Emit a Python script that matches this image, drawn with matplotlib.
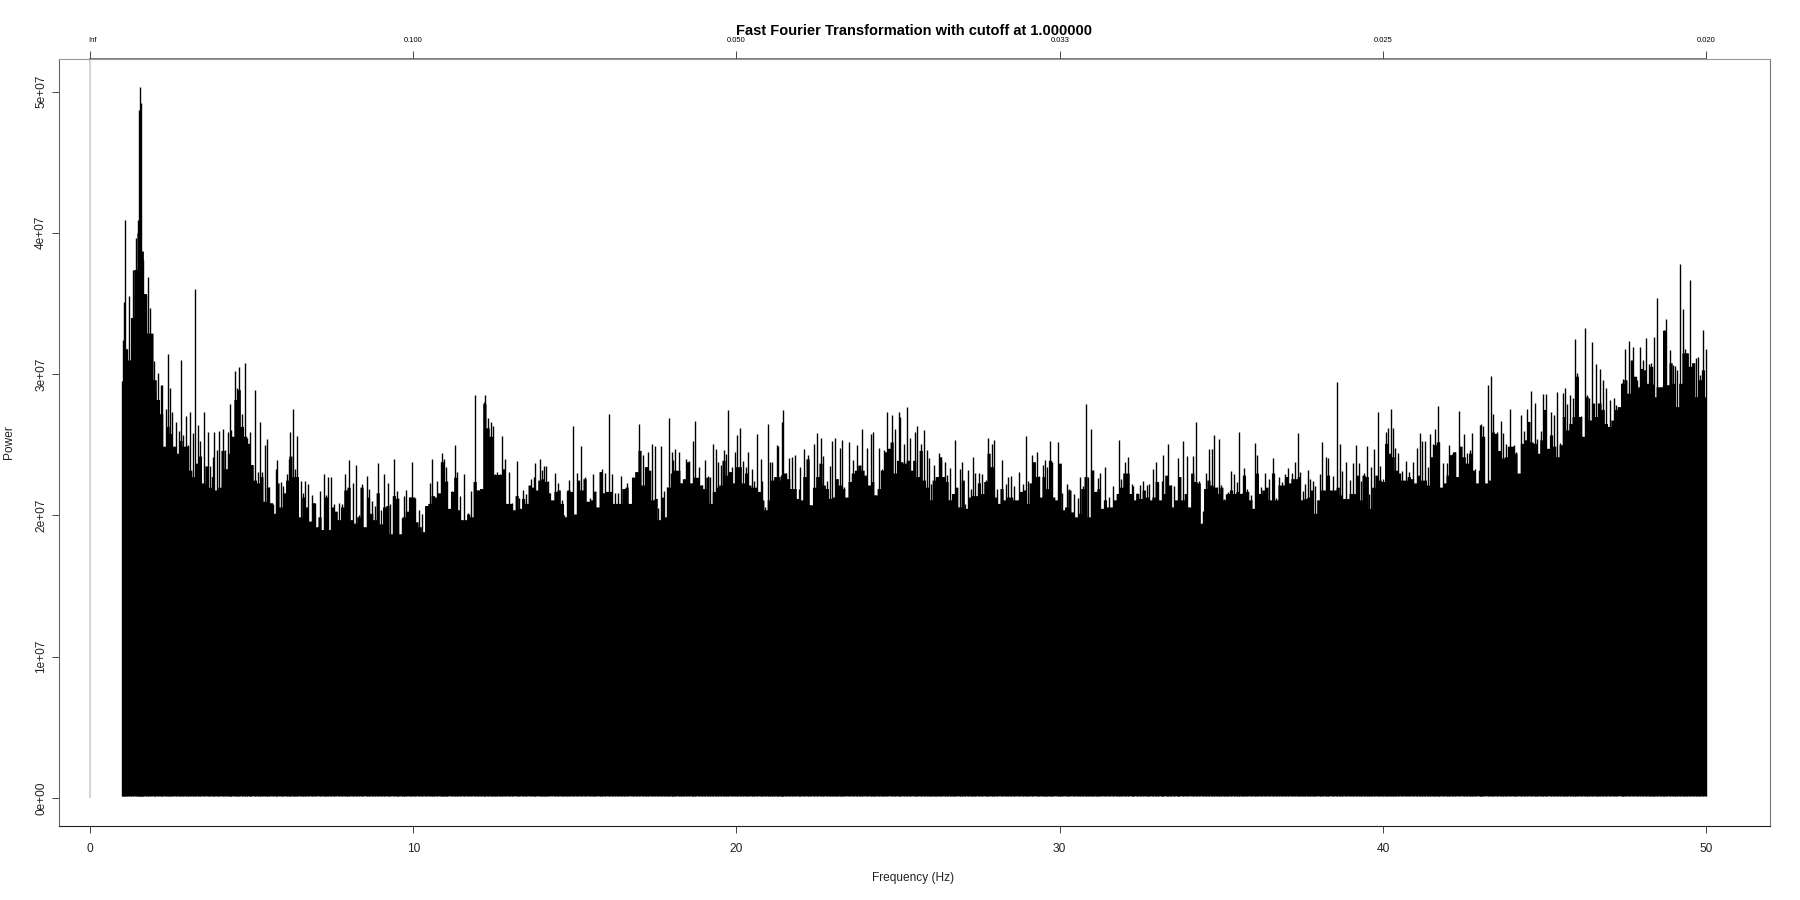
import numpy as np
import matplotlib
matplotlib.use('Agg')
import matplotlib.pyplot as plt
from matplotlib.transforms import ScaledTranslation

plt.rcParams['font.family'] = ['Liberation Sans', 'DejaVu Sans']

# Peaks: (frequency in Hz, power in millions)
peaks_1_to_9 = [(1.0,29.5),(1.03,32.4),(1.052,35.1),(1.09,40.9),(1.155,31.8),(1.217,35.5),(1.258,31.0),(1.32,37.4),
    (1.41,39.6),(1.475,40.9),(1.505,48.7),(1.547,50.3),(1.57,49.2),(1.61,38.7),(1.65,38.1),(1.72,35.6),(1.785,36.9),
    (1.867,34.7),(1.97,30.9),(2.02,28.9),(2.09,30.1),(2.19,29.2),(2.24,29.2),(2.34,27.5),(2.40,31.4),(2.475,29.0),
    (2.54,27.35),(2.66,26.6),(2.74,26.0),(2.805,31.0),(2.89,25.7),(2.96,27.0),(3.02,25.0),(3.08,27.3),(3.2,25.8),
    (3.24,36.0),(3.33,26.4),(3.40,25.3),(3.52,27.35),(3.64,25.9),(3.71,23.5),(3.80,24.1),(3.85,25.9),(3.92,24.6),
    (3.99,26.0),(4.10,26.1),(4.18,24.6),(4.26,25.9),(4.33,27.9),(4.37,26.05),(4.48,30.25),(4.54,29.0),(4.61,30.5),
    (4.70,27.2),(4.79,30.8),(4.86,25.5),(4.94,25.9),(4.99,23.6),(5.09,28.9),(5.19,23.1),(5.26,26.6),(5.33,23.1),
    (5.42,25.0),(5.48,25.4),(5.55,22.0),(5.65,20.8),(5.75,23.3),(5.80,23.9),(5.90,22.35),(5.98,22.1),(6.08,22.9),
    (6.15,24.0),(6.20,25.9),(6.28,27.5),(6.35,23.3),(6.40,25.6),(6.52,22.4),(6.60,21.6),(6.65,22.4),(6.74,22.2),
    (6.88,21.45),(6.97,20.9),(7.12,21.75),(7.23,22.9),(7.29,21.45),(7.36,22.7),(7.45,22.7),(7.55,20.8),(7.70,20.9),
    (7.81,20.8),(7.89,22.9),(7.94,21.8),(8.01,23.9),(8.14,22.3),(8.22,23.6),(8.31,20.0),(8.41,22.2),(8.56,22.8),
    (8.62,21.85),(8.72,21.05),(8.82,20.7),(8.90,23.7)]

peaks_9_to_17 = [(9.0,20.4),(9.11,22.9),(9.21,22.3),(9.28,20.8),(9.40,24.0),(9.49,21.7),(9.54,21.2),(9.64,19.8),
    (9.72,21.4),(9.79,21.8),(9.90,21.3),(9.95,23.8),(10.06,21.25),(10.18,20.4),(10.26,20.1),(10.40,20.7),(10.52,22.3),
    (10.58,24.0),(10.65,21.4),(10.74,22.4),(10.86,23.8),(10.89,24.4),(10.95,24.0),(11.0,23.4),(11.05,22.4),(11.19,21.7),
    (11.28,25.0),(11.36,23.1),(11.45,21.4),(11.57,22.9),(11.68,20.2),(11.78,21.7),(11.91,28.5),(11.99,21.8),(12.10,21.9),
    (12.20,28.0),(12.22,28.5),(12.31,26.9),(12.39,26.6),(12.47,26.35),(12.53,22.9),(12.60,23.1),(12.69,22.9),(12.76,25.6),
    (12.84,24.0),(12.97,23.1),(13.05,20.85),(13.20,23.85),(13.28,21.2),(13.40,21.8),(13.49,21.5),(13.64,22.55),(13.75,22.7),
    (13.77,23.7),(13.92,24.0),(13.97,23.2),(14.05,23.5),(14.11,23.5),(14.18,22.4),(14.39,23.0),(14.49,22.3),(14.59,21.1),
    (14.67,20.0),(14.75,21.75),(14.81,22.5),(14.94,26.3),(15.06,23.0),(15.20,24.9),(15.31,22.7),(15.47,21.2),(15.57,22.9),
    (15.63,21.7),(15.78,23.1),(15.83,23.3),(15.92,23.0),(16.06,27.15),(16.14,22.9),(16.25,21.6),(16.33,21.6),(16.42,22.8),
    (16.52,21.9),(16.62,22.3),(16.79,22.7),(16.89,23.1),(16.99,26.5),(17.10,24.3),(17.19,23.4),(17.25,24.5)]

peaks_17_to_26 = [(17.38,25.05),(17.49,24.9),(17.57,20.5),(17.67,24.9),(17.75,21.7),(17.85,22.0),(17.92,26.9),(17.99,24.5),
    (18.05,23.9),(18.11,24.7),(18.21,24.5),(18.29,22.3),(18.36,22.6),(18.43,24.0),(18.52,23.85),(18.62,22.3),(18.66,25.3),
    (18.73,26.65),(18.85,23.45),(18.93,22.15),(19.03,23.9),(19.13,22.8),(19.19,22.7),(19.27,25.05),(19.38,24.7),(19.44,23.8),
    (19.51,23.6),(19.61,24.6),(19.68,24.35),(19.75,27.45),(19.85,23.45),(19.96,24.5),(20.02,25.7),(20.10,26.2),(20.20,23.85),
    (20.30,23.45),(20.37,24.5),(20.47,23.3),(20.53,22.4),(20.65,25.75),(20.75,24.0),(20.79,22.45),(20.89,20.6),(20.97,26.45),
    (21.04,23.8),(21.1,23.75),(21.16,22.4),(21.24,25.0),(21.29,24.9),(21.37,22.85),(21.42,26.6),(21.45,27.45),(21.53,23.0),
    (21.64,24.05),(21.71,24.15),(21.81,24.25),(21.92,21.9),(21.97,23.45),(22.08,24.7),(22.21,24.3),(22.29,20.75),(22.39,25.05),
    (22.5,25.85),(22.6,25.5),(22.69,24.2),(22.79,22.45),(22.9,23.5),(22.96,25.25),(23.04,25.5),(23.12,22.6),(23.19,24.75),
    (23.26,25.35),(23.34,22.0),(23.48,25.2),(23.62,23.9),(23.74,25.0),(23.83,23.55),(23.89,26.15),(24.03,24.8),(24.15,25.75),
    (24.21,25.9),(24.29,21.45),(24.41,24.8),(24.5,23.25),(24.57,24.6),(24.67,27.35),(24.8,27.1),(24.91,26.1),(25.03,27.3),
    (25.07,26.95),(25.19,25.05),(25.29,27.7),(25.38,25.45),(25.51,25.9),(25.59,26.3)]

peaks_26_to_34 = [(25.7,25.05),(25.81,26.05),(25.89,24.6),(25.96,24.05),(26.02,22.2),(26.10,23.6),(26.16,22.75),(26.26,24.4),
    (26.33,23.9),(26.45,23.8),(26.5,22.85),(26.6,23.35),(26.69,21.45),(26.77,25.35),(26.92,23.3),(26.98,23.8),(27.06,20.8),
    (27.17,23.2),(27.26,21.9),(27.33,24.1),(27.39,23.0),(27.51,23.0),(27.6,22.9),(27.71,22.5),(27.78,25.45),(27.9,25.05),
    (27.97,25.35),(28.07,21.85),(28.23,23.9),(28.33,22.2),(28.4,22.75),(28.48,22.8),(28.59,22.05),(28.73,23.1),(28.85,22.2),
    (28.96,25.6),(29.03,22.45),(29.15,24.3),(29.29,24.5),(29.36,22.8),(29.48,23.55),(29.56,23.9),(29.61,23.45),(29.71,25.25),
    (29.76,23.8),(29.95,25.2),(30.01,23.65),(30.07,21.6),(30.22,22.2),(30.29,21.9),(30.44,21.55),(30.56,21.25),(30.63,22.7),
    (30.73,22.1),(30.81,27.9),(30.87,22.75),(30.98,26.1),(31.02,23.2),(31.12,21.65),(31.2,22.65),(31.25,23.0),(31.4,23.4),
    (31.53,21.3),(31.66,22.05),(31.77,21.5),(31.85,25.35),(31.91,22.55),(32.02,23.75),(32.11,24.1),(32.23,22.2),(32.28,22.05),
    (32.38,21.6),(32.47,22.15),(32.58,22.45),(32.69,22.15),(32.77,22.25),(32.88,23.3),(32.97,23.75),(33.04,22.35),(33.15,22.45),
    (33.2,24.3),(33.32,22.75),(33.36,25.05),(33.44,22.15),(33.54,22.05),(33.66,24.05),(33.7,22.75),(33.82,25.3),(33.93,24.2)]

peaks_34_to_42 = [(34.12,24.2),(34.21,26.6),(34.32,22.45),(34.42,20.3),(34.53,23.0),(34.63,24.7),(34.72,24.7),(34.77,25.7),
    (34.86,22.0),(34.93,25.4),(35.0,22.15),(35.07,21.15),(35.14,21.5),(35.2,21.65),(35.3,23.15),(35.4,22.9),(35.47,22.35),
    (35.55,25.9),(35.63,21.6),(35.71,23.35),(35.79,21.9),(35.92,21.45),(36.04,25.1),(36.1,24.3),(36.22,22.0),(36.35,23.0),
    (36.47,22.6),(36.61,24.05),(36.7,21.2),(36.79,22.75),(36.89,22.35),(36.96,22.9),(37.07,23.35),(37.18,23.0),(37.28,23.8),
    (37.37,25.8),(37.44,23.05),(37.54,21.75),(37.59,22.25),(37.69,23.2),(37.75,22.6),(37.84,22.45),(37.91,22.05),(38.05,22.95),
    (38.11,25.2),(38.24,24.1),(38.31,24.05),(38.45,22.8),(38.57,29.45),(38.68,25.05),(38.74,23.15),(38.85,23.75),(38.99,22.5),
    (39.07,23.7),(39.16,24.95),(39.25,23.7),(39.32,22.45),(39.4,23.0),(39.5,24.9),(39.56,21.55),(39.64,23.45),(39.72,24.7),
    (39.84,27.35),(39.91,23.5),(40.0,22.6),(40.1,25.9),(40.16,26.2),(40.25,27.5),(40.31,26.2),(40.38,24.8),(40.48,24.4),
    (40.58,23.15),(40.71,23.85),(40.8,23.1),(40.93,23.8),(41.06,24.8),(41.15,25.8),(41.2,25.25),(41.29,25.25),(41.38,23.45),
    (41.46,25.75),(41.55,25.05),(41.61,26.15),(41.69,27.75),(41.72,25.2),(41.85,23.7),(41.97,23.7),(42.03,25.0)]

peaks_42_to_50 = [(42.13,24.35),(42.22,24.5),(42.35,27.4),(42.51,25.75),(42.6,24.4),(42.7,24.65),(42.76,25.85),(42.84,23.3),
    (42.99,26.4),(43.04,26.5),(43.11,26.3),(43.26,29.25),(43.35,29.85),(43.41,27.2),(43.52,25.9),(43.66,26.7),(43.71,25.8),
    (43.81,25.05),(43.93,27.5),(44.06,24.95),(44.12,24.5),(44.26,27.1),(44.37,26.0),(44.46,27.55),(44.59,28.8),(44.69,27.95),
    (44.77,25.4),(44.89,25.95),(44.95,28.6),(45.04,28.6),(45.19,27.35),(45.28,27.1),(45.39,28.7),(45.49,25.1),(45.57,28.65),
    (45.64,29.0),(45.71,27.85),(45.78,28.5),(45.88,28.3),(45.94,32.45),(46.0,30.05),(46.12,27.05),(46.24,33.25),(46.31,28.5),
    (46.37,28.3),(46.47,32.3),(46.59,30.75),(46.65,27.95),(46.73,30.35),(46.81,29.55),(46.9,29.0),(47.02,28.15),(47.14,28.3),
    (47.22,27.8),(47.39,29.4),(47.44,29.65),(47.49,31.75),(47.62,32.35),(47.73,31.9),(47.86,29.6),(47.95,31.95),(48.04,31.0),
    (48.14,32.55),(48.22,30.7),(48.28,30.8),(48.35,29.3),(48.4,32.65),(48.47,35.4),(48.56,29.1),(48.65,29.25),(48.71,33.15),
    (48.76,33.9),(48.89,31.7),(48.96,30.65),(49.03,30.55),(49.1,30.3),(49.18,37.8),(49.28,34.6),(49.35,31.75),(49.42,31.5),
    (49.51,36.65),(49.6,30.8),(49.69,31.15),(49.75,31.2),(49.82,29.95),(49.9,33.15),(50.0,31.8)]

# Solid mass under the peaks, one value per 0.1 Hz bin
body_1_to_9 = [29.5,31.8,31,34,37.4,40,38.7,35.7,32.9,32.9,29.6,28.2,27.2,24.9,26.3,25.8,24.9,24.4,25.3,24.9,24.9,23.2,22.75,
    23.7,24.2,22.3,23.5,22,22.75,21.8,22,24.6,23.3,24.4,25.6,28.2,28.9,26.3,25.6,25.1,23.6,22.5,22.3,22.75,21,22,20.9,20.15,
    22.3,20.6,21.6,22.5,24.2,22.75,22.75,19.9,21.3,20.6,19.6,20.9,19.2,19.9,19,21.3,19,20.6,20.3,19.7,20.6,21.8,22,19.7,19.45,
    19.9,22,19.2,21.3,20.15,19.7,21.6]
body_9_to_17 = [19.4,20.6,20.7,18.7,21.4,21.2,18.7,19.9,20.3,21.3,21.3,19.55,19.2,18.85,20.7,20.85,21.4,21.3,21.6,23.8,22.4,
    20.5,21.7,22.7,20.4,19.7,19.7,20.1,19.9,22.4,21.8,21.9,27.9,26.2,25.6,22.9,22.9,22.9,23.3,20.85,20.85,20.4,21.4,20.5,21.2,
    20.85,22.15,22,21.8,22.5,22.6,22.4,21.6,21.1,21.7,21.8,20.85,19.9,21.8,21.7,20.1,22.5,21.8,22.6,21,21.1,21.7,20.6,23.1,21.6,
    21.7,21.7,20.85,20.85,20.85,21.9,22,20.85,22.7,23.1,24.6,22.15,23.45,23.2]
body_17_to_26 = [21.1,21.2,19.7,21.3,19.9,22,23,23.2,23.2,22.3,22.6,23.8,22.3,22.7,22.7,22.15,21.9,22.7,20.85,21.7,22,22.15,23.9,
    22.85,23.1,22.3,23.45,23.45,22.3,23,22.15,22,22,21.7,21.1,20.4,21.1,22.5,22.75,22.75,22.5,23,22.6,21.9,21.9,21.2,21.1,22.75,24,
    20.75,22,22.75,23.7,22.15,21.9,21.2,21.3,22.6,22.15,21.9,21.3,22.4,23,23.2,23.55,23.2,22.85,22.15,22.4,21.45,21.9,23.2,24.5,
    24.75,25.2,23,23.9,23.8,23.7,23.9,23.2,23.9,22.75]
body_26_to_34 = [24.6,22.5,22,21.1,22.5,22.75,24.15,22.75,22.4,21.1,21.55,22,20.6,22.5,20.5,21.3,21.4,21.4,22.3,21.55,22.4,24.4,
    23.45,21.3,20.85,21.9,21.1,21.3,21.3,21.1,21.1,21.7,21.8,20.85,22.3,23.8,22.75,21.3,22.75,21.9,23.9,21.3,21.1,23.7,20.4,20.6,
    21.8,20.25,19.9,20.15,21.9,22.75,19.9,23.2,21.7,21.9,20.5,21.1,20.6,20.6,21.1,21.55,22,23,23,21.55,21.1,21.55,21.2,21.8,21.3,
    21.1,21.3,22.4,21.1,21.55,22.85,22.15,20.6,21.1,22.75,21.1,21.55,20.6]
body_34_to_42 = [23,22.4,22.3,19.45,21.9,22.5,22.15,22,21.55,22,21.1,21.55,21.8,21.55,21.7,21.55,22.85,21.7,21.1,20.5,23,21.55,21.8,
    22,21.1,23,21.1,22.15,22.15,22.75,22.3,22.6,22.6,22.75,21.1,21.2,21.3,21.8,20.15,21.1,21.8,21.8,22.85,21.8,21.8,22,21.45,21.2,
    21.2,21.55,21.55,22.85,21.1,22.85,22.75,20.5,22,22.85,22.5,22.4,25.1,24.4,24.15,23.2,23,22.5,22.5,22.75,22.6,22.3,22.85,22.5,22.5,
    22.15,24.15,25,25.2,22,22.3,22.85]
body_42_to_50 = [24.3,24.5,22.75,24.9,24.15,23.7,24.4,23.2,22.3,23.2,25.6,22.3,22.5,25.9,25.8,24.6,24.05,24.15,24.9,24.9,24.4,23,25.1,
    25.35,26.65,25.2,25.1,24.4,25.35,27.5,24.75,25.7,24.9,24.15,25,27,26.05,26.5,27,29.85,27,25.6,28.4,26.75,27.95,27,27.95,27.5,26.5,
    26.3,26.75,27.5,27.7,29.35,29.6,28.65,31,29.85,29.1,30.4,30.3,29.35,30.55,28.4,29.1,29.1,33.1,29.25,30.8,29.35,27.7,29.35,31.5,31.5,
    30.55,30.8,28.4,29.6,30.3,28.4]
bottom_power = 0.15

inf_freq = 0

x_ticks = [0, 10, 20, 30, 40, 50]
top_ticks = [0, 10, 20, 30, 40, 50]
top_labels = ['Inf', '0.100', '0.050', '0.033', '0.025', '0.020']
y_ticks = [0, 1e7, 2e7, 3e7, 4e7, 5e7]
y_labels = ['0e+00', '1e+07', '2e+07', '3e+07', '4e+07', '5e+07']

peaks = np.array(peaks_1_to_9 + peaks_9_to_17 + peaks_17_to_26 + peaks_26_to_34 + peaks_34_to_42 + peaks_42_to_50)
peak_freq = peaks[:, 0]
peak_power = peaks[:, 1] * 1e6

band_starts = [1.0, 9.0, 17.4, 25.7, 34.1, 42.1]
bands = [body_1_to_9, body_9_to_17, body_17_to_26, body_26_to_34, body_34_to_42, body_42_to_50]
body_freq = []
body_power = []
for start, vals in zip(band_starts, bands):
    body_freq.extend(start + 0.1 * i for i in range(len(vals)))
    body_power.extend(vals)
body_freq = np.array(body_freq)
body_power = np.array(body_power) * 1e6
order = np.argsort(body_freq)
body_freq = body_freq[order]
body_power = body_power[order]

fig = plt.figure(figsize=(18, 9), dpi=100)
ax = fig.add_axes([59 / 1800, 1 - 826 / 900, (1769.5 - 59) / 1800, (826 - 59) / 900])

ax.vlines(inf_freq, 0, 1e9, color='#c8c8c8', lw=1.1)
ax.fill_between(body_freq, bottom_power * 1e6, body_power, step='mid', color='black', lw=0)
ax.vlines(peak_freq, bottom_power * 1e6, peak_power, color='black', lw=1.0)

ax.set_xlim(-0.96, 51.96)
ax.set_ylim(-1.98e6, 5.23e7)

# R style box, darker where the axis lines run over it
for side, col in [('left', '#666666'), ('right', '#777777'), ('bottom', '#222222'), ('top', '#999999')]:
    ax.spines[side].set_color(col)
    ax.spines[side].set_linewidth(0.8)
ax.plot(x_ticks[::5], [1, 1], color='#555555', lw=1.1, transform=ax.get_xaxis_transform(), clip_on=False)

ax.set_xticks(x_ticks)
ax.set_yticks(y_ticks)
ax.set_yticklabels(y_labels, rotation=90, va='center', fontsize=8.6, color='#222222')
ax.tick_params(axis='x', length=5, width=0.7, color='#444444', labelsize=8.6, labelcolor='#222222', pad=7.5)
ax.tick_params(axis='y', length=5, width=0.7, color='#444444', pad=3.5)

top = ax.secondary_xaxis('top')
top.set_xticks(top_ticks)
top.set_xticklabels(top_labels, fontsize=5.5)
top.tick_params(axis='x', length=5.5, width=0.7, color='#444444', pad=5.5)
top.spines['top'].set_visible(False)
lab = top.get_xticklabels()[0]
lab.set_transform(lab.get_transform() + ScaledTranslation(2.5 / 100, 0, fig.dpi_scale_trans))

fig.text(914 / 1800, 1 - 31 / 900, 'Fast Fourier Transformation with cutoff at 1.000000',
         ha='center', va='center', fontsize=10.55, fontweight='bold')
fig.text(913 / 1800, 1 - 878 / 900, 'Frequency (Hz)', ha='center', va='center', fontsize=8.6, color='#222222')
fig.text(9 / 1800, 1 - 442 / 900, 'Power', ha='center', va='center', rotation=90, fontsize=8.6, color='#222222')

fig.savefig('out.png', dpi=100)
